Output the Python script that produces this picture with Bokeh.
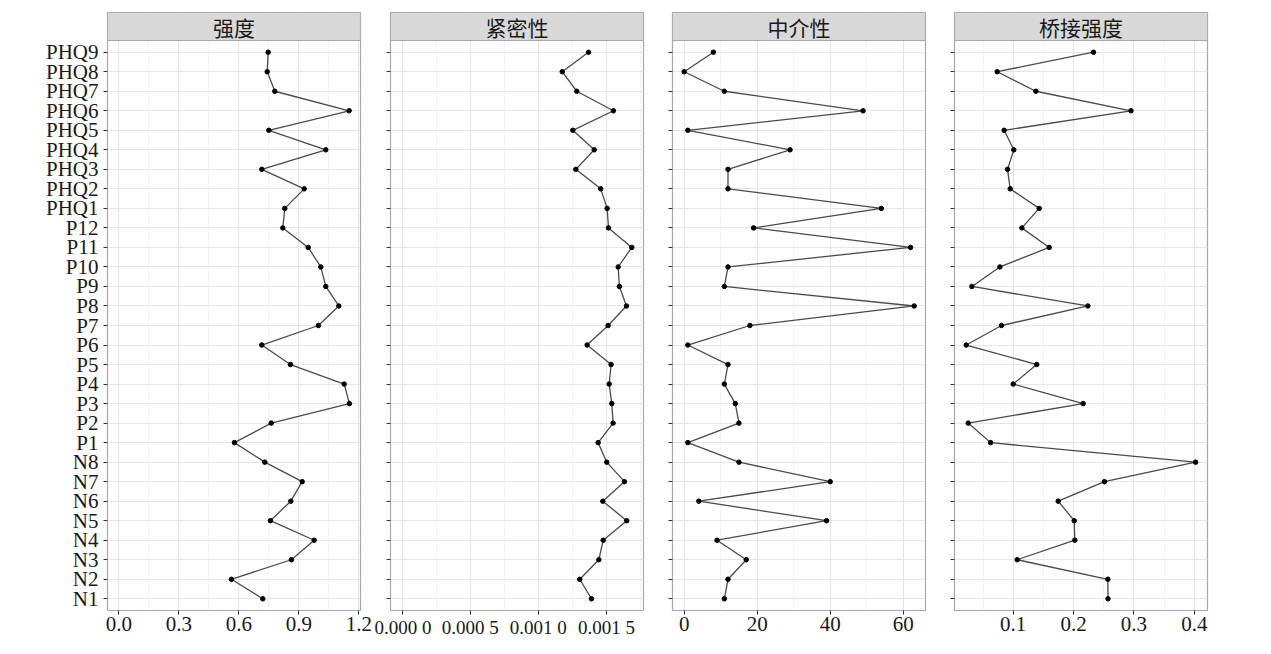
from bokeh.plotting import figure
from bokeh.layouts import row
from bokeh.models import FixedTicker, Range1d
from bokeh.embed import file_html
from bokeh.resources import INLINE
from bokeh.core.properties import value

# Nodes, bottom (N1) to top (PHQ9)
nodes = ["N1", "N2", "N3", "N4", "N5", "N6", "N7", "N8",
         "P1", "P2", "P3", "P4", "P5", "P6", "P7", "P8", "P9", "P10", "P11", "P12",
         "PHQ1", "PHQ2", "PHQ3", "PHQ4", "PHQ5", "PHQ6", "PHQ7", "PHQ8", "PHQ9"]

strength = [0.72, 0.563, 0.863, 0.977, 0.758, 0.86, 0.917, 0.73,
            0.578, 0.762, 1.153, 1.127, 0.858, 0.715, 0.998, 1.10, 1.035, 1.01, 0.947, 0.82,
            0.83, 0.927, 0.715, 1.035, 0.75, 1.152, 0.78, 0.742, 0.747]

closeness = [0.00139, 0.001304, 0.001444, 0.001476, 0.001649, 0.001473, 0.001632, 0.001502,
             0.001439, 0.001549, 0.001539, 0.00152, 0.001534, 0.001358, 0.001512, 0.001647,
             0.001595, 0.001586, 0.001686, 0.001515,
             0.001505, 0.001458, 0.001275, 0.00141, 0.001253, 0.001551, 0.001282, 0.001175, 0.001368]

betweenness = [11, 12, 17, 9, 39, 4, 40, 15,
               1, 15, 14, 11, 12, 1, 18, 63, 11, 12, 62, 19,
               54, 12, 12, 29, 1, 49, 11, 0, 8]

bridge_strength = [0.257, 0.2567, 0.1066, 0.202, 0.201, 0.1745, 0.251, 0.402,
                   0.0625, 0.0255, 0.2158, 0.1, 0.139, 0.0222, 0.0807, 0.2236, 0.0316, 0.078, 0.1596, 0.1143,
                   0.143, 0.095, 0.0906, 0.101, 0.085, 0.295, 0.1375, 0.0735, 0.233]

panel_titles = ["强度", "紧密性", "中介性", "桥接强度"]
series = [strength, closeness, betweenness, bridge_strength]

x_ticks = [[0, 0.3, 0.6, 0.9, 1.2],
           [0, 0.0005, 0.001, 0.0015],
           [0, 20, 40, 60],
           [0.1, 0.2, 0.3, 0.4]]
x_tick_labels = [["0.0", "0.3", "0.6", "0.9", "1.2"],
                 ["0.000 0", "0.000 5", "0.001 0", "0.001 5"],
                 ["0", "20", "40", "60"],
                 ["0.1", "0.2", "0.3", "0.4"]]
x_minor = [[0.15, 0.45, 0.75, 1.05],
           [0.00025, 0.00075, 0.00125, 0.00175],
           [10, 30, 50],
           [0.05, 0.15, 0.25, 0.35]]
x_limits = [(-0.0565, 1.2085), (-0.0000859, 0.001772), (-3.2, 66.1), (0.0028, 0.4217)]
x_label_sizes = ["21px", "19px", "21px", "21px"]

y_pos = list(range(1, len(nodes) + 1))
y_low, y_high = 0.4, len(nodes) + 0.6
strip_top = y_high + 28 * (y_high - y_low) / 570.0

borders = [(107, 14), (16, 10), (19, 10), (19, 15)]

figs = []
for i in range(4):
    x0, x1 = x_limits[i]
    bl, br = borders[i]
    p = figure(frame_width=253, frame_height=598,
               x_range=Range1d(x0, x1), y_range=Range1d(y_low, strip_top),
               output_backend="svg", toolbar_location=None,
               min_border_left=bl, min_border_right=br,
               min_border_top=12, min_border_bottom=38,
               background_fill_color="white", border_fill_color="white")
    p.outline_line_color = "#a8a8a8"
    p.outline_line_width = 1.2

    # grids
    p.xaxis.ticker = FixedTicker(ticks=x_ticks[i], minor_ticks=x_minor[i])
    p.yaxis.ticker = FixedTicker(ticks=y_pos, minor_ticks=[])
    p.xgrid.grid_line_color = "#e6e6e6"
    p.xgrid.grid_line_width = 1.2
    p.xgrid.minor_grid_line_color = "#efefef"
    p.xgrid.minor_grid_line_width = 0.7
    p.ygrid.grid_line_color = "#e6e6e6"
    p.ygrid.grid_line_width = 1.2

    # x axis
    xa = p.xaxis[0]
    xa.major_label_overrides = {t: lab for t, lab in zip(x_ticks[i], x_tick_labels[i])}
    xa.axis_line_color = None
    xa.major_tick_line_color = "#333333"
    xa.major_tick_out = 4
    xa.major_tick_in = 0
    xa.minor_tick_line_color = None
    xa.major_label_standoff = 2
    xa.major_label_text_font = "Liberation Serif"
    xa.major_label_text_font_size = x_label_sizes[i]
    xa.major_label_text_color = "#1a1a1a"

    # y axis
    ya = p.yaxis[0]
    ya.axis_line_color = None
    ya.major_tick_line_color = "#333333"
    ya.major_tick_out = 4
    ya.major_tick_in = 0
    ya.minor_tick_line_color = None
    if i == 0:
        ya.major_label_overrides = {y: n for y, n in zip(y_pos, nodes)}
        ya.major_label_standoff = 5
        ya.major_label_text_font = "Liberation Serif"
        ya.major_label_text_font_size = "21px"
        ya.major_label_text_color = "#1a1a1a"
    else:
        ya.major_label_overrides = {y: "" for y in y_pos}
        ya.major_label_standoff = 0
        ya.major_label_text_font_size = "0px"

    # data
    p.line(series[i], y_pos, line_color="#4a4a4a", line_width=1.3)
    p.scatter(series[i], y_pos, size=4.5, color="black")

    # strip header
    p.quad(left=[x0], right=[x1], bottom=[y_high], top=[strip_top],
           fill_color="#d9d9d9", line_color="#a8a8a8", line_width=1.2)
    p.text(x=[(x0 + x1) / 2], y=[(y_high + strip_top) / 2], text=[panel_titles[i]],
           text_font=value("Noto Sans CJK SC"), text_font_size="21px",
           text_align="center", text_baseline="middle", text_color="#1a1a1a")
    figs.append(p)

layout = row(*figs)
open("out.html", "w").write(file_html(layout, INLINE))
